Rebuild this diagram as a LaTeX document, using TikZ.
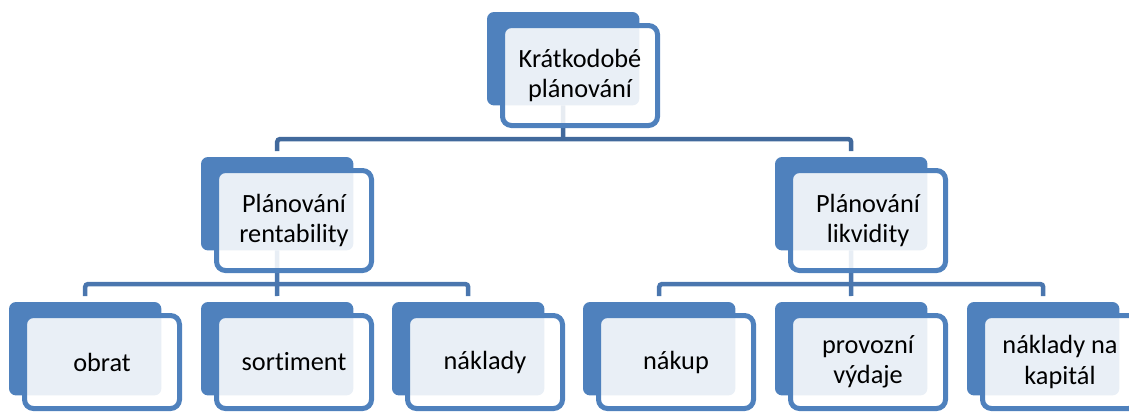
\documentclass[tikz,border=0pt]{standalone}
\usepackage{fontspec}
\setmainfont[Ligatures=NoCommon]{Carlito}
\definecolor{accent}{HTML}{4F81BD}
\definecolor{railtop}{HTML}{41699C}
\definecolor{raillow}{HTML}{4A76AE}
\tikzset{
  backbox/.style={anchor=north west, minimum width=152pt,
    minimum height=93pt, inner sep=0pt},
  frontbox/.style={draw=accent, line width=5pt, fill=white, fill opacity=0.88,
    text opacity=1, rounded corners=9pt, minimum width=155pt,
    minimum height=100pt, inner sep=0pt, align=center,
    font=\fontsize{26.3}{30.5}\selectfont},
  leafbox/.style={frontbox, minimum height=93pt},
  rail/.style={line width=4.5pt, rounded corners=3pt},
}
\begin{document}
\begin{tikzpicture}[x=1pt,y=-1pt]
  \useasboundingbox (0,0) rectangle (1129,413);
  \clip (0,0) rectangle (1129,413);

  % junction points of the connector rails
  \coordinate (j1) at (563,139);
  \coordinate (j2) at (277,284);
  \coordinate (j3) at (851,284);

  % back plates (geometry only, filled after the connectors)
  \node[backbox] (top-b)  at (487,12)  {};
  \node[backbox] (rent-b) at (201,157) {};
  \node[backbox] (likv-b) at (775,157) {};
  \node[backbox] (obrat-b) at (9,302)   {};
  \node[backbox] (sort-b)  at (201,302) {};
  \node[backbox] (nakl-b)  at (392,302) {};
  \node[backbox] (nakup-b) at (583,302) {};
  \node[backbox] (prov-b)  at (775,302) {};
  \node[backbox] (kap-b)   at (967,302) {};

  % connectors, beneath the boxes
  \draw[rail, railtop] (top-b.south) -- (j1);
  \draw[rail, railtop] ([yshift=6pt]rent-b.north) |- (j1) -| ([yshift=6pt]likv-b.north);
  \draw[rail, raillow] (rent-b.south) -- (j2);
  \draw[rail, raillow] ([yshift=6pt]obrat-b.north) |- (j2) -| ([yshift=6pt]nakl-b.north);
  \draw[rail, raillow] ([yshift=6pt]sort-b.north) -- (j2);
  \draw[rail, raillow] (likv-b.south) -- (j3);
  \draw[rail, raillow] ([yshift=6pt]nakup-b.north) |- (j3) -| ([yshift=6pt]kap-b.north);
  \draw[rail, raillow] ([yshift=6pt]prov-b.north) -- (j3);

  % solid plates
  \foreach \n in {top-b,rent-b,likv-b,obrat-b,sort-b,nakl-b,nakup-b,prov-b,kap-b}
    \fill[accent, rounded corners=7pt] (\n.north west) rectangle (\n.south east);

  % front boxes carrying the text
  \node[frontbox] (top)  at (580,75.5)  {Krátkodobé\\plánování};
  \node[frontbox] (rent) at (294,220.5) {Plánování\\rentability};
  \node[frontbox] (likv) at (868,220.5) {Plánování\\likvidity};
  \node[leafbox] (obrat) at (102,362)  {obrat};
  \node[leafbox] (sort)  at (294,362)  {sortiment};
  \node[leafbox] (nakl)  at (485,362)  {náklady};
  \node[leafbox] (nakup) at (676,362)  {nákup};
  \node[leafbox] (prov)  at (868,362)  {provozní\\výdaje};
  \node[leafbox] (kap)   at (1060,362) {náklady na\\kapitál};
\end{tikzpicture}
\end{document}
